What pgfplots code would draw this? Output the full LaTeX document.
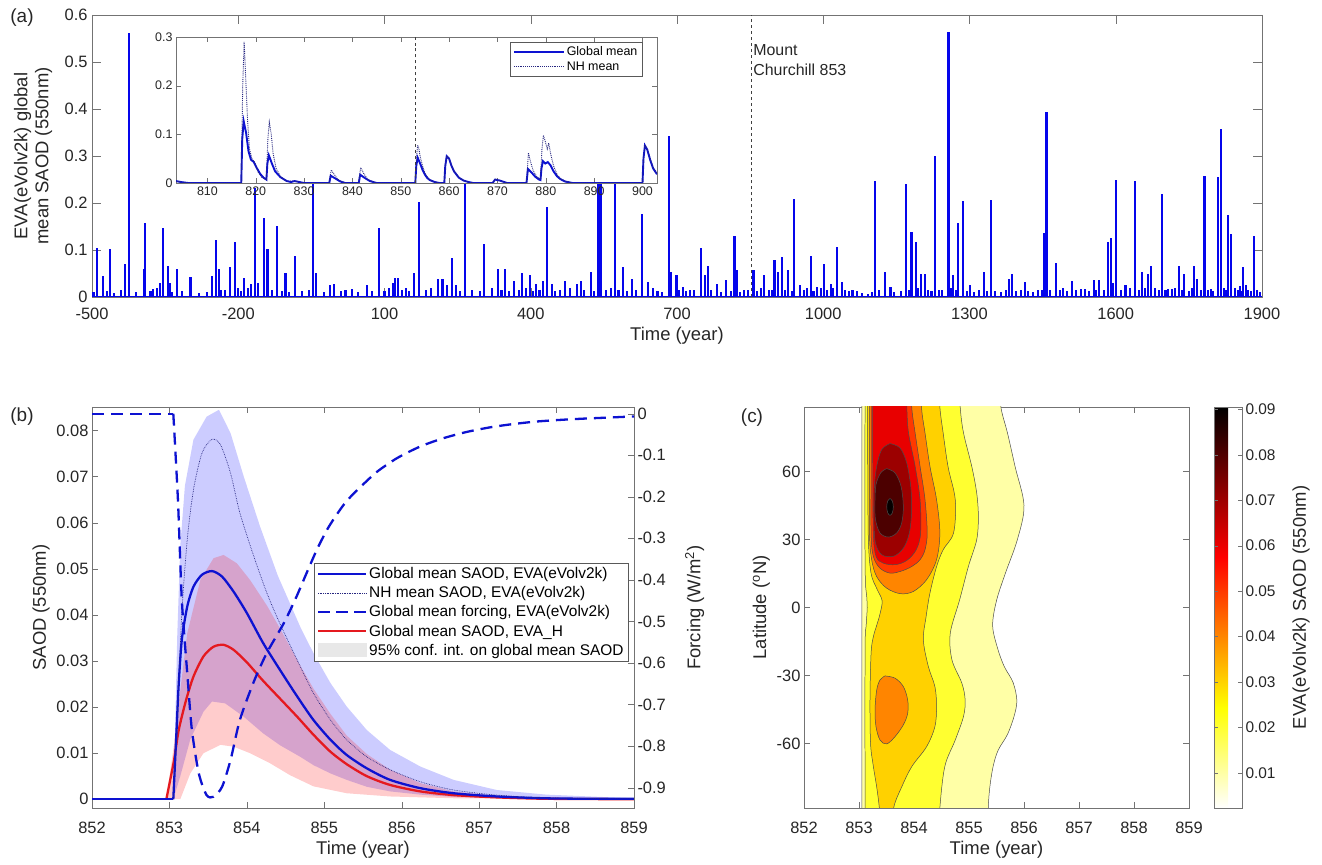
\documentclass[border=0pt]{standalone}
\usepackage{fontspec}
\setmainfont{Liberation Sans}
\usepackage{pgfplots}
\pgfplotsset{compat=1.18}

\definecolor{spikeblue}{rgb}{0.02,0.02,0.92}
\definecolor{lineblue}{rgb}{0.05,0.07,0.82}
\definecolor{nhnavy}{rgb}{0.15,0.15,0.5}
\definecolor{linered}{rgb}{0.9,0.1,0.12}
\definecolor{axgray}{rgb}{0.45,0.45,0.45}
\definecolor{c1}{rgb}{1,1,0.65}
\definecolor{c2}{rgb}{1,1,0.19}
\definecolor{c3}{rgb}{1,0.82,0}
\definecolor{c4}{rgb}{1,0.52,0}
\definecolor{c5}{rgb}{1,0.22,0}
\definecolor{c6}{rgb}{0.91,0,0}
\definecolor{c7}{rgb}{0.61,0,0}
\definecolor{c8}{rgb}{0.30,0,0}
\definecolor{c9}{rgb}{0.02,0,0}

\pgfplotsset{
  every axis/.append style={
    scale only axis,
    font=\fontsize{18.5}{21}\selectfont,
    axis line style={axgray},
    every tick/.append style={axgray},
    tick label style={black!85, font=\fontsize{16.5}{18}\selectfont},
    label style={black!85},
    tick align=inside,
    major tick length=6bp,
    scaled ticks=false,
    /pgf/number format/assume math mode=true,
    /pgf/number format/set thousands separator={},
  },
  contour/.style={smooth, tension=0.55, draw=black!70, line width=0.5pt, fill=#1},
  fix1/.style={/pgf/number format/fixed, /pgf/number format/precision=1},
  fix2/.style={/pgf/number format/fixed, /pgf/number format/precision=2},
  curve/.style={smooth, tension=0.45},
}

\begin{document}
\begin{tikzpicture}
\path[use as bounding box] (0,0) rectangle (1322bp,865bp);

% ---------- (a) full record ----------
\begin{axis}[at={(92bp,568bp)}, anchor=south west, width=1170bp, height=282bp,
  xmin=-500, xmax=1900, ymin=0, ymax=0.6,
  xtick={-500,-200,100,400,700,1000,1300,1600,1900},
  ytick={0,0.1,0.2,0.3,0.4,0.5,0.6},
  yticklabel style={fix1, xshift=-1bp},
  xticklabel style={yshift=-8bp},
  major tick length=9bp,
  xlabel={Time (year)},
  ylabel={EVA(eVolv2k) global\\mean SAOD (550nm)},
  ylabel style={align=center, at={(axis description cs:-0.031,0.5)}, anchor=south}]
\addplot[ycomb, draw=spikeblue, line width=2.1pt, mark=none] coordinates {
(-490,0.105)(-477,0.045)(-463,0.103)(-433,0.07)(-424,0.561)(-394,0.06)(-391,0.157)
(-375,0.018)(-361,0.03)(-354,0.146)(-345,0.067)(-340,0.03)(-326,0.06)(-298,0.042)
(-253,0.045)(-245,0.122)(-240,0.06)(-227,0.014)(-217,0.064)(-207,0.116)(-200,0.02)
(-188,0.04)(-174,0.028)(-166,0.232)(-160,0.03)(-147,0.168)(-140,0.103)(-121,0.15)
(-103,0.05)(-84,0.088)(-47,0.3)(-40,0.05)(-12,0.025)(-3,0.028)(34,0.018)(64,0.025)
(88,0.147)(117,0.03)(122,0.04)(127,0.04)(145,0.02)(161,0.05)(171,0.202)(196,0.02)
(210,0.039)(219,0.039)(228,0.025)(238,0.083)(247,0.025)(265,0.3)(305,0.112)(333,0.06)
(347,0.06)(365,0.035)(382,0.05)(398,0.046)(411,0.028)(425,0.035)(434,0.192)(443,0.028)
(471,0.035)(494,0.028)(503,0.035)(523,0.053)(539,0.3)(545,0.3)(573,0.3)(590,0.064)
(608,0.039)(628,0.177)(640,0.032)(683,0.343)(688,0.053)(699,0.047)(713,0.021)(726,0.014)
(750,0.104)(757,0.046)(764,0.067)(782,0.027)(800,0.037)(818,0.129)(824,0.058)(838,0.014)
(857,0.058)(879,0.046)(900,0.079)(907,0.053)(916,0.085)(928,0.058)(940,0.208)(952,0.025)
(975,0.088)(988,0.021)(1002,0.071)(1015,0.028)(1029,0.107)(1038,0.032)(1060,0.014)
(1092,0.007)(1107,0.247)(1127,0.053)(1138,0.021)(1170,0.24)(1181,0.139)(1191,0.118)
(1200,0.048)(1209,0.048)(1230,0.3)(1244,0.014)(1257,0.564)(1267,0.046)(1277,0.158)
(1287,0.205)(1301,0.025)(1329,0.053)(1345,0.206)(1381,0.039)(1388,0.048)(1414,0.031)
(1441,0.015)(1452,0.137)(1458,0.394)(1477,0.072)(1492,0.02)(1510,0.034)(1528,0.018)
(1537,0.018)(1555,0.037)(1566,0.037)(1584,0.118)(1590,0.125)(1600,0.249)(1620,0.025)
(1640,0.246)(1653,0.053)(1667,0.049)(1673,0.065)(1695,0.22)(1707,0.018)(1716,0.018)
(1729,0.067)(1740,0.049)(1761,0.067)(1767,0.039)(1782,0.257)(1796,0.018)(1809,0.256)
(1815,0.358)(1831,0.175)(1836,0.133)(1845,0.02)(1854,0.023)(1861,0.064)(1867,0.025)
(1883,0.129)(1890,0.014)
(-497,0.01)(-470,0.012)(-455,0.008)(-440,0.015)(-410,0.01)(-380,0.012)(-367,0.02)
(-335,0.01)(-315,0.012)(-280,0.008)(-265,0.01)(-235,0.015)(-195,0.012)(-180,0.02)
(-130,0.015)(-110,0.012)(-95,0.01)(-70,0.012)(-55,0.015)(-25,0.01)(10,0.012)(20,0.015)
(45,0.01)(75,0.012)(100,0.012)(110,0.02)(135,0.015)(150,0.012)(185,0.015)(255,0.012)
(280,0.015)(295,0.012)(320,0.02)(340,0.015)(355,0.012)(375,0.015)(390,0.02)(405,0.012)
(418,0.015)(450,0.012)(460,0.015)(480,0.02)(510,0.015)(530,0.012)(555,0.015)(565,0.02)
(580,0.015)(598,0.012)(615,0.015)(650,0.02)(660,0.012)(670,0.01)(705,0.015)(718,0.012)
(735,0.015)(770,0.015)(790,0.01)(810,0.012)(830,0.01)(845,0.015)(865,0.012)(872,0.02)
(888,0.015)(895,0.015)(922,0.015)(935,0.012)(960,0.015)(967,0.02)(980,0.012)(995,0.02)
(1008,0.015)(1020,0.02)(1045,0.015)(1052,0.012)(1070,0.012)(1080,0.008)(1100,0.01)
(1115,0.015)(1145,0.01)(1160,0.012)(1175,0.015)(1195,0.02)(1215,0.015)(1222,0.012)
(1238,0.015)(1262,0.02)(1272,0.015)(1295,0.012)(1310,0.01)(1320,0.015)(1335,0.012)
(1352,0.012)(1365,0.01)(1375,0.015)(1395,0.012)(1405,0.015)(1420,0.012)(1430,0.01)
(1448,0.015)(1465,0.015)(1485,0.015)(1500,0.012)(1518,0.015)(1545,0.012)(1560,0.015)
(1575,0.015)(1595,0.03)(1610,0.015)(1630,0.02)(1647,0.015)(1660,0.02)(1680,0.02)
(1688,0.015)(1702,0.015)(1722,0.02)(1735,0.015)(1750,0.012)(1756,0.02)(1775,0.015)
(1790,0.015)(1800,0.012)(1822,0.02)(1826,0.015)(1850,0.015)(1857,0.012)(1872,0.015)
(1878,0.012)(1895,0.01)};
\addplot[spikeblue, line width=1.8pt] coordinates {(-500,0.0006)(1900,0.0006)};
\addplot[black!75, dashed, line width=0.6pt] coordinates {(853,0)(853,0.6)};
\node[anchor=north west, align=left, inner sep=1.5bp, font=\fontsize{16}{20}\selectfont, black!85]
  at (axis cs:853,0.54) {Mount\\Churchill 853};
\end{axis}

% ---------- (a) inset ----------
\begin{axis}[at={(176bp,682bp)}, anchor=south west, width=481bp, height=146bp,
  xmin=803.5, xmax=903, ymin=0, ymax=0.3,
  xtick={810,820,...,900}, ytick={0,0.1,0.2,0.3},
  yticklabel style={fix1},
  tick label style={font=\fontsize{12.5}{13}\selectfont},
  major tick length=5bp,
  axis background/.style={fill=white},
  legend image code/.code={\draw[#1] (0bp,0bp) -- (50bp,0bp);},
  legend style={at={(0.969,0.968)}, anchor=north east, draw=black!65, fill=white,
    font=\fontsize{12.5}{14}\selectfont, inner sep=2.5bp, row sep=1bp},
  legend cell align=left]
\addplot[lineblue, line width=1.9pt] coordinates {
(803.5,0.004)(804.5,0.002)(806,0)(817,0)(817.2,0.09)(817.5,0.127)(818,0.103)(818.5,0.065)
(819,0.048)(819.6,0.043)(820.2,0.031)(820.9,0.019)(821.6,0.011)(822.2,0.007)(822.4,0.04)
(822.7,0.057)(823.3,0.041)(824,0.024)(825.1,0.012)(826.4,0.004)(827.3,0.002)(828,0.004)
(829,0.002)(830,0)(835.2,0)(835.5,0.015)(836.5,0.009)(837.5,0.003)(838.5,0)(841.3,0)
(841.6,0.017)(842.6,0.01)(843.6,0.004)(845,0)(853,0)(853.2,0.035)(853.5,0.052)(854,0.04)
(854.5,0.027)(855,0.017)(855.5,0.01)(856,0.006)(857,0.002)(858,0)(859,0)(859.2,0.035)
(859.5,0.055)(860,0.05)(860.5,0.035)(861,0.024)(862,0.011)(863,0.005)(864,0.002)(865,0)
(869,0)(869.5,0.007)(870.5,0.005)(872,0)(876,0)(876.3,0.029)(877,0.022)(877.8,0.013)
(878.6,0.007)(878.9,0.006)(879.1,0.03)(879.4,0.045)(879.9,0.04)(880.4,0.043)(881,0.036)
(881.6,0.024)(882.3,0.014)(883,0.008)(884,0.003)(885.5,0)(900,0)(900.2,0.05)(900.5,0.077)
(901,0.068)(901.6,0.047)(902.2,0.03)(903,0.018)};
\addlegendentry{Global mean}
\addplot[nhnavy, line width=0.9pt, densely dotted] coordinates {
(803.5,0.004)(804.5,0.002)(806,0)(817,0)(817.3,0.2)(817.6,0.29)(817.9,0.22)(818.3,0.13)
(818.7,0.07)(819.2,0.05)(819.8,0.042)(820.5,0.022)(821.2,0.012)(822.2,0.007)(822.5,0.09)
(822.8,0.125)(823.2,0.1)(823.6,0.06)(824.2,0.03)(825.2,0.012)(826.4,0.004)(828,0.004)
(829,0.002)(830,0)(835.2,0)(835.6,0.027)(836.2,0.018)(837,0.007)(838.5,0)(841.3,0)
(841.7,0.032)(842.3,0.02)(843.2,0.007)(845,0)(853,0)(853.25,0.055)(853.5,0.078)
(853.75,0.07)(854,0.055)(854.5,0.035)(855,0.02)(855.5,0.012)(856,0.007)(857,0.002)
(858,0)(859,0)(859.2,0.035)(859.5,0.056)(860,0.05)(860.5,0.036)(861,0.025)(862,0.012)
(863,0.005)(864,0.002)(865,0)(869,0)(869.5,0.008)(870.5,0.005)(872,0)(876,0)(876.4,0.062)
(876.8,0.045)(877.4,0.025)(878.2,0.012)(878.9,0.008)(879.2,0.07)(879.5,0.098)(879.9,0.085)
(880.3,0.07)(880.6,0.082)(881,0.06)(881.6,0.035)(882.3,0.018)(883,0.009)(884,0.004)
(885.5,0)(900,0)(900.2,0.05)(900.5,0.078)(901,0.07)(901.6,0.05)(902.2,0.032)(903,0.019)};
\addlegendentry{NH mean}
\addplot[black!75, dashed, line width=0.6pt, forget plot] coordinates {(853,0)(853,0.3)};
\end{axis}

% ---------- (b) SAOD, left axis ----------
\begin{axis}[at={(92bp,57bp)}, anchor=south west, width=542bp, height=401bp,
  xmin=852, xmax=859, ymin=-0.0019, ymax=0.0851,
  xtick={852,853,854,855,856,857,858,859},
  ytick={0,0.01,0.02,0.03,0.04,0.05,0.06,0.07,0.08},
  ytick pos=left,
  yticklabel style={fix2},
  xticklabel style={yshift=-11bp},
  xlabel={Time (year)}, ylabel={SAOD (550nm)}]
% 95% intervals
\addplot[draw=none, fill=blue, fill opacity=0.2] coordinates {
(853.05,0)(853.06,0.005)(853.1,0.035)(853.14,0.055)(853.2,0.068)(853.31,0.078)(853.48,0.083)
(853.64,0.0845)(853.79,0.0794)(853.96,0.070)(854.17,0.0592)(854.4,0.0485)(854.69,0.0374)
(854.86,0.0317)(855.08,0.0252)(855.29,0.0201)(855.55,0.015)(855.85,0.0107)(856.24,0.0071)
(856.67,0.0042)(857.23,0.002)(857.87,0.001)(859,0.0002)
(859,0)(857.5,0.0002)(856.67,0.0005)(856.24,0.001)(855.85,0.0017)(855.55,0.0027)
(855.29,0.0042)(855.08,0.0056)(854.86,0.0074)(854.69,0.0092)(854.43,0.0117)(854.21,0.0143)
(853.96,0.0179)(853.72,0.0208)(853.55,0.0212)(853.44,0.019)(853.27,0.013)(853.14,0.005)(853.05,0)};
\addplot[draw=none, fill=red, fill opacity=0.2] coordinates {
(852.96,0)(853.06,0.012)(853.15,0.025)(853.23,0.036)(853.4,0.0476)(853.57,0.0523)(853.7,0.053)
(853.87,0.0512)(854.04,0.0476)(854.26,0.042)(854.43,0.037)(854.56,0.033)(854.69,0.029)
(854.86,0.024)(855.08,0.0185)(855.29,0.0138)(855.55,0.0098)(855.85,0.0064)(856.24,0.0035)
(856.67,0.0017)(857.23,0.0007)(857.87,0.0002)(859,0)
(859,0)(856.7,0.0002)(855.85,0.0006)(855.29,0.0013)(854.86,0.0028)(854.56,0.0052)
(854.3,0.0078)(854.04,0.01)(853.83,0.0114)(853.66,0.0118)(853.44,0.01)(853.27,0.0056)
(853.14,0)(852.96,0)};
% EVA_H global mean
\addplot[linered, line width=2.3pt] coordinates {(852,0)(852.96,0)};
\addplot[linered, line width=2.3pt, curve] coordinates {
(852.96,0)(853.01,0.0042)(853.06,0.0085)(853.12,0.015)(853.21,0.0212)
(853.31,0.0266)(853.44,0.031)(853.57,0.0331)(853.7,0.0335)(853.83,0.0324)(854,0.0297)
(854.21,0.0257)(854.43,0.0218)(854.65,0.0179)(854.86,0.0140)(855.08,0.0103)(855.29,0.0076)
(855.55,0.0050)(855.85,0.0031)(856.24,0.0017)(856.67,0.0009)(857.23,0.0004)(857.87,0.0001)(859,0)};
% EVA(eVolv2k) global mean
\addplot[lineblue, line width=2.3pt] coordinates {(852,0)(853.05,0)};
\addplot[lineblue, line width=2.3pt, curve] coordinates {
(853.05,0)(853.09,0.0143)(853.12,0.025)(853.16,0.0346)(853.23,0.0418)
(853.31,0.0461)(853.42,0.0487)(853.55,0.0495)(853.68,0.0483)(853.83,0.045)(854,0.0404)
(854.21,0.0339)(854.43,0.028)(854.65,0.0223)(854.86,0.0172)(855.08,0.0129)(855.29,0.0096)
(855.55,0.0067)(855.85,0.0042)(856.24,0.0024)(856.67,0.0013)(857.23,0.0006)(857.87,0.0002)
(858.5,0.0001)(859,0.0001)};
% NH mean
\addplot[nhnavy, line width=0.7pt, densely dotted, curve] coordinates {
(853.05,0)(853.11,0.0216)(853.16,0.0404)(853.23,0.0563)(853.31,0.0671)
(853.42,0.0751)(853.55,0.0781)(853.66,0.0769)(853.79,0.0707)(853.91,0.0621)(854.09,0.0527)
(854.26,0.0447)(854.43,0.038)(854.69,0.0288)(854.86,0.023)(855.08,0.0172)(855.29,0.0129)
(855.55,0.0092)(855.85,0.0064)(856.24,0.0038)(856.67,0.002)(857.23,0.0009)(857.87,0.0003)(859,0.0001)};
\end{axis}

% ---------- (b) forcing, right axis ----------
\begin{axis}[at={(92bp,57bp)}, anchor=south west, width=542bp, height=401bp,
  xmin=852, xmax=859, ymin=-0.949, ymax=0.016,
  axis x line=none, axis y line*=right,
  ytick={-0.9,-0.8,-0.7,-0.6,-0.5,-0.4,-0.3,-0.2,-0.1,0},
  yticklabel style={fix1},
  ylabel={Forcing (W/m\textsuperscript{2})},
  ylabel style={at={(axis description cs:1.088,0.5)}, anchor=north},
  legend style={at={(0.9895,0.6117)}, anchor=north east, draw=black!65, fill=white,
    font=\fontsize{15.5}{17}\selectfont, inner sep=2.5bp, row sep=2.5bp},
  legend cell align=left]
\addlegendimage{legend image code/.code={\draw[lineblue, line width=2.3pt] (0bp,0bp) -- (48bp,0bp);}}
\addlegendimage{legend image code/.code={\draw[nhnavy, line width=0.7pt, densely dotted] (0bp,0bp) -- (48bp,0bp);}}
\addlegendimage{legend image code/.code={\draw[lineblue, line width=2.3pt, dash pattern=on 12bp off 6bp] (0bp,0bp) -- (48bp,0bp);}}
\addlegendimage{legend image code/.code={\draw[linered, line width=2.3pt] (0bp,0bp) -- (48bp,0bp);}}
\addlegendimage{legend image code/.code={\fill[black!9] (0bp,-6bp) rectangle (48bp,7bp);}}
\legend{Global mean SAOD{,} EVA(eVolv2k), NH mean SAOD{,} EVA(eVolv2k),
  Global mean forcing{,} EVA(eVolv2k), Global mean SAOD{,} EVA\_H,
  95\% conf. int. on global mean SAOD}
\addplot[lineblue, line width=2.3pt, dash pattern=on 12bp off 7bp, forget plot] coordinates {(852,0)(853.05,0)};
\addplot[lineblue, line width=2.3pt, dash pattern=on 12bp off 7bp, curve, forget plot] coordinates {
(853.05,0)(853.11,-0.208)(853.16,-0.448)(853.23,-0.624)(853.29,-0.761)
(853.38,-0.866)(853.48,-0.918)(853.57,-0.922)(853.68,-0.898)(853.79,-0.833)(853.91,-0.737)
(854.09,-0.645)(854.26,-0.575)(854.475,-0.505)(854.63,-0.445)(854.78,-0.38)(854.91,-0.325)
(855.04,-0.278)(855.16,-0.243)(855.29,-0.210)(855.47,-0.176)(855.68,-0.14)(855.94,-0.107)
(856.24,-0.079)(856.54,-0.059)(856.84,-0.044)(857.14,-0.033)(857.44,-0.025)(857.74,-0.019)
(858.05,-0.015)(858.35,-0.012)(858.65,-0.0096)(858.9,-0.0075)(859,-0.007)};
\end{axis}

% ---------- (c) latitude-time SAOD ----------
\begin{axis}[at={(804bp,57bp)}, anchor=south west, width=385bp, height=401bp,
  xmin=852, xmax=859, ymin=-88.5, ymax=88.5,
  xtick={852,853,854,855,856,857,858,859},
  ytick={-60,-30,0,30,60},
  xticklabel style={yshift=-11bp},
  xlabel={Time (year)}, ylabel={Latitude (\textsuperscript{o}N)},
  colormap={revhot}{rgb(0cm)=(1,1,1) rgb(2cm)=(1,1,0) rgb(5cm)=(1,0,0) rgb(8cm)=(0,0,0)},
  point meta min=0.0023, point meta max=0.0905,
  colorbar, colorbar shift/.style={xshift=25bp},
  colorbar style={at={(parent axis.north east)}, anchor=north west, width=28bp,
    ytick={0.01,0.02,0.03,0.04,0.05,0.06,0.07,0.08,0.09},
    yticklabel style={fix2},
    tick label style={font=\fontsize{15.5}{17}\selectfont},
    major tick length=4bp,
    ylabel={EVA(eVolv2k) SAOD (550nm)},
    ylabel style={at={(axis description cs:2.68,0.5)}, anchor=north}}]
\addplot[contour=c1] coordinates {
(853.05,100)(853.05,-100)(853.05,-110)(855.35,-110)(855.35,-100)(855.35,-88.5)(855.38,-79)
(855.44,-70)(855.53,-63)(855.70,-56)(855.82,-48)(855.87,-41)(855.80,-33)(855.64,-26)
(855.52,-18)(855.43,-8)(855.50,3)(855.66,15)(855.88,30)(856.0,45)(855.84,62)(855.70,77)
(855.58,88.5)(855.57,100)(855.57,110)(853.05,110)(853.05,100)};
\addplot[contour=c2] coordinates {
(853.11,100)(853.11,20)(853.14,5)(853.15,0)(853.13,-8)(853.11,-20)(853.11,-100)(853.11,-110)
(854.45,-110)(854.46,-100)(854.47,-88.5)(854.56,-70.2)(854.75,-58.5)(854.90,-48.1)
(854.93,-40.8)(854.87,-33.4)(854.69,-23.1)(854.66,-11.3)(854.83,3.4)(854.99,18.2)
(855.14,29.9)(855.17,40.2)(855.14,50.5)(855.05,62.3)(854.90,77.1)(854.84,88.5)(854.83,100)
(854.83,110)(853.11,110)(853.11,100)};
\addplot[contour=c3] coordinates {
(853.15,100)(853.15,88.5)(853.16,60)(853.17,30)(853.22,15)(853.33,8)(853.42,3)(853.38,-3)
(853.32,-8)(853.26,-13)(853.22,-20)(853.20,-40)(853.21,-60)(853.26,-70)(853.32,-79)
(853.37,-88.5)(853.40,-100)(853.42,-110)(853.60,-110)(853.62,-100)(853.63,-88.5)(853.78,-79)
(853.96,-70.2)(854.23,-61.4)(854.38,-52.6)(854.41,-43.7)(854.38,-34.9)(854.26,-26)
(854.17,-14.3)(854.22,-4)(854.29,6.4)(854.41,18)(854.53,25.5)(854.72,33)(854.75,47.6)
(854.62,62)(854.53,77)(854.47,88.5)(854.46,100)(854.45,110)(853.15,110)(853.15,100)};
\addplot[contour=c4] coordinates {
(853.19,100)(853.19,62.3)(853.19,32.9)(853.23,21.1)(853.32,13.7)(853.50,8.6)(853.75,6.1)
(853.99,7.1)(854.23,12.3)(854.41,21.1)(854.47,32.9)(854.41,47.6)(854.29,62.3)(854.20,77.1)
(854.14,87.4)(854.13,100)(854.13,110)(853.19,110)(853.19,100)};
\addplot[contour=c4] coordinates {
(853.473,-30.2)(853.655,-31.2)(853.806,-34.9)(853.885,-40.8)(853.885,-46.7)(853.806,-51.8)
(853.655,-57.0)(853.503,-60.2)(853.382,-58.5)(853.309,-52.6)(853.291,-45.2)(853.322,-36.4)
(853.382,-32.0)(853.473,-30.2)};
\addplot[contour=c5] coordinates {
(853.22,100)(853.22,62.3)(853.22,32.9)(853.26,22.6)(853.38,17.4)(853.56,15.2)(853.75,15.9)
(853.96,18.1)(854.11,21.1)(854.20,25.5)(854.24,32.9)(854.20,47.6)(854.11,62.3)(854.02,77.1)
(853.96,88)(853.95,100)(853.95,110)(853.22,110)(853.22,100)};
\addplot[contour=c6] coordinates {
(853.25,100)(853.25,62.3)(853.26,32.9)(853.31,22.6)(853.44,19.6)(853.66,18.9)(853.87,20.8)
(854.04,25.5)(854.12,32.9)(854.11,47.6)(854.02,62.3)(853.90,77.1)(853.87,88)(853.86,100)
(853.86,110)(853.25,110)(853.25,100)};
\addplot[contour=c7] coordinates {
(853.564,72.35)(853.746,70.4)(853.867,63.8)(853.940,53.5)(853.958,43.2)(853.915,32.9)
(853.806,26.2)(853.625,22.6)(853.413,23.3)(853.30,28.5)(853.27,38.8)(853.275,52.0)
(853.322,62.3)(853.413,69.7)(853.564,72.35)};
\addplot[contour=c8] coordinates {
(853.503,61.3)(853.655,59.4)(853.764,53.5)(853.806,44.7)(853.776,37.3)(853.685,32.9)
(853.534,31.1)(853.382,32.9)(853.30,38.8)(853.29,46.1)(853.309,54.2)(853.394,59.4)(853.503,61.3)};
\addplot[contour=c9] coordinates {
(853.564,48.1)(853.606,47.0)(853.624,44.4)(853.606,41.8)(853.564,40.7)(853.522,41.8)
(853.504,44.4)(853.522,47.0)(853.564,48.1)};
\end{axis}

\node[font=\fontsize{19}{19}\selectfont, black!85] at (22bp,847bp) {(a)};
\node[font=\fontsize{19}{19}\selectfont, black!85] at (22bp,448bp) {(b)};
\node[font=\fontsize{19}{19}\selectfont, black!85] at (752bp,447bp) {(c)};
\end{tikzpicture}
\end{document}
